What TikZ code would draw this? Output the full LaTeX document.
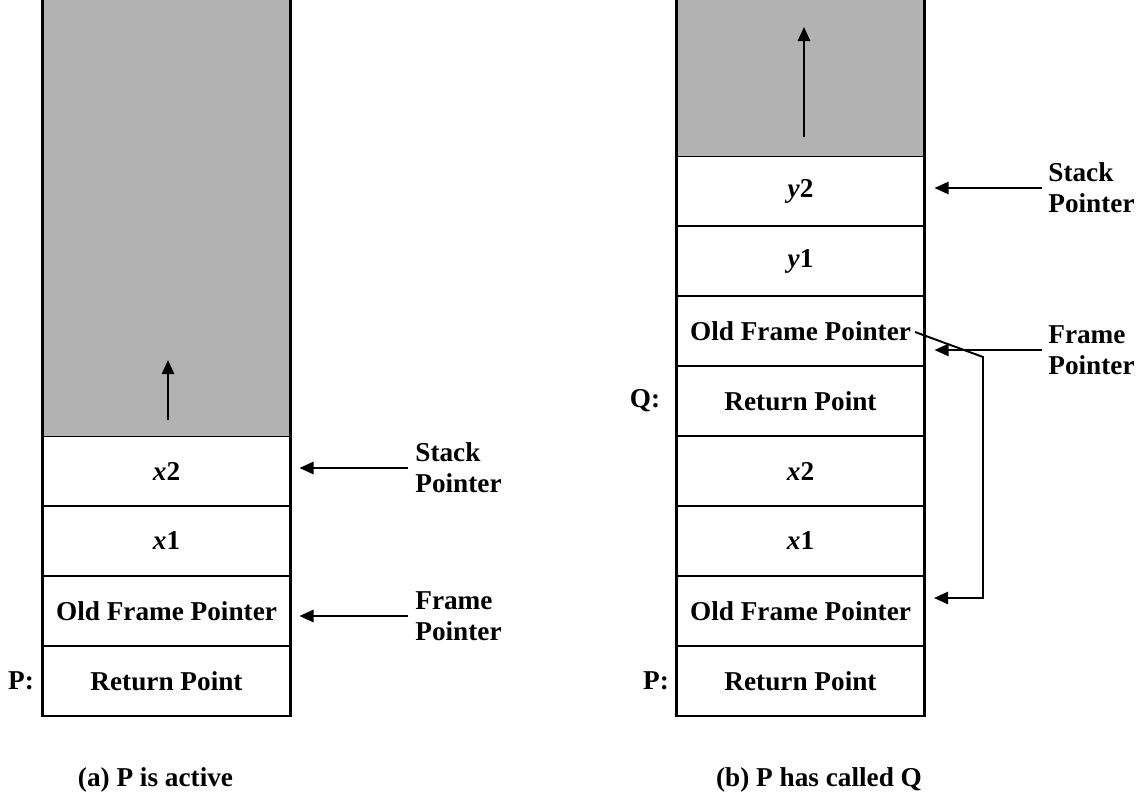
\documentclass[tikz,border=0pt]{standalone}
\usepackage{fontspec}
\setmainfont{Liberation Serif}
\usetikzlibrary{positioning,arrows.meta,calc}

\tikzset{
    cell/.style={draw=black, line width=1.6pt, fill=white, minimum width=4.96cm,
        minimum height=1.4cm, inner sep=0pt, outer sep=0pt},
    ptr/.style={-{Triangle[length=8pt,width=7pt]}, line width=1.1pt},
    lbl/.style={align=left, anchor=west, inner sep=0pt},
    freespace/.style={fill=black!30}
}

\begin{document}
\begin{tikzpicture}[font=\fontsize{15.5}{17.5}\selectfont\bfseries, node distance=0pt]
    \useasboundingbox (0,0) rectangle (22.84,15.98);

    % (a) P is active
    \begin{scope}
        \node[cell] (aRet) at (3.33,2.36) {Return Point};
        \node[cell, above=of aRet] (aOld) {Old Frame Pointer};
        \node[cell, above=of aOld] (aX1) {\textit{x}1};
        \node[cell, above=of aX1] (aX2) {\textit{x}2};
        % Unused stack space and growth direction
        \fill[freespace] (aX2.north west) rectangle (aX2.north east |- 0,15.98);
        \draw[line width=1.6pt] (aX2.north west) -- (aX2.north west |- 0,15.98);
        \draw[line width=1.6pt] (aX2.north east) -- (aX2.north east |- 0,15.98);
        \coordinate (aGrowS) at (3.36,7.58);
        \coordinate (aGrowE) at (3.36,8.78);
        \draw[ptr] (aGrowS) -- (aGrowE);
        % Pointers
        \node[lbl] (aSP) at (8.3,6.62) {Stack\\Pointer};
        \node[lbl] (aFP) at (8.3,3.66) {Frame\\Pointer};
        \draw[ptr] ($(aSP.west)+(-0.14,0)$) -- ($(aSP.west -| aX2.east)+(0.18,0)$);
        \draw[ptr] ($(aFP.west)+(-0.14,0)$) -- ($(aFP.west -| aOld.east)+(0.18,0)$);
        \node (aP) at (0.42,2.36) {P:};
        \node (aCap) at (3.11,0.38) {(a) P is active};
    \end{scope}

    % (b) P has called Q
    \begin{scope}
        \node[cell] (bRet) at (16.01,2.36) {Return Point};
        \node[cell, above=of bRet] (bOld) {Old Frame Pointer};
        \node[cell, above=of bOld] (bX1) {\textit{x}1};
        \node[cell, above=of bX1] (bX2) {\textit{x}2};
        \node[cell, above=of bX2] (bRetQ) {Return Point};
        \node[cell, above=of bRetQ] (bOldQ) {Old Frame Pointer};
        \node[cell, above=of bOldQ] (bY1) {\textit{y}1};
        \node[cell, above=of bY1] (bY2) {\textit{y}2};
        % Unused stack space and growth direction
        \fill[freespace] (bY2.north west) rectangle (bY2.north east |- 0,15.98);
        \draw[line width=1.6pt] (bY2.north west) -- (bY2.north west |- 0,15.98);
        \draw[line width=1.6pt] (bY2.north east) -- (bY2.north east |- 0,15.98);
        \coordinate (bGrowS) at (16.08,13.24);
        \coordinate (bGrowE) at (16.08,15.44);
        \draw[ptr] (bGrowS) -- (bGrowE);
        % Pointers
        \node[lbl] (bSP) at (20.96,12.22) {Stack\\Pointer};
        \node[lbl] (bFP) at (20.96,8.98) {Frame\\Pointer};
        \draw[ptr] ($(bSP.west)+(-0.12,0)$) -- ($(bSP.west -| bY2.east)+(0.2,0)$);
        \draw[ptr] ($(bFP.west)+(-0.12,0)$) -- ($(bFP.west -| bOldQ.east)+(0.2,0)$);
        % Saved frame pointer refers to the frame of P
        \coordinate (bLinkS) at (18.3,9.34);
        \coordinate (bKink) at (19.66,8.84);
        \coordinate (bLinkE) at (18.68,4.02);
        \draw[ptr] (bLinkS) -- (bKink) |- (bLinkE);
        \node (bP) at (13.12,2.36) {P:};
        \node (bQ) at (12.9,7.96) {Q:};
        \node (bCap) at (16.38,0.38) {(b) P has called Q};
    \end{scope}

\end{tikzpicture}
\end{document}
